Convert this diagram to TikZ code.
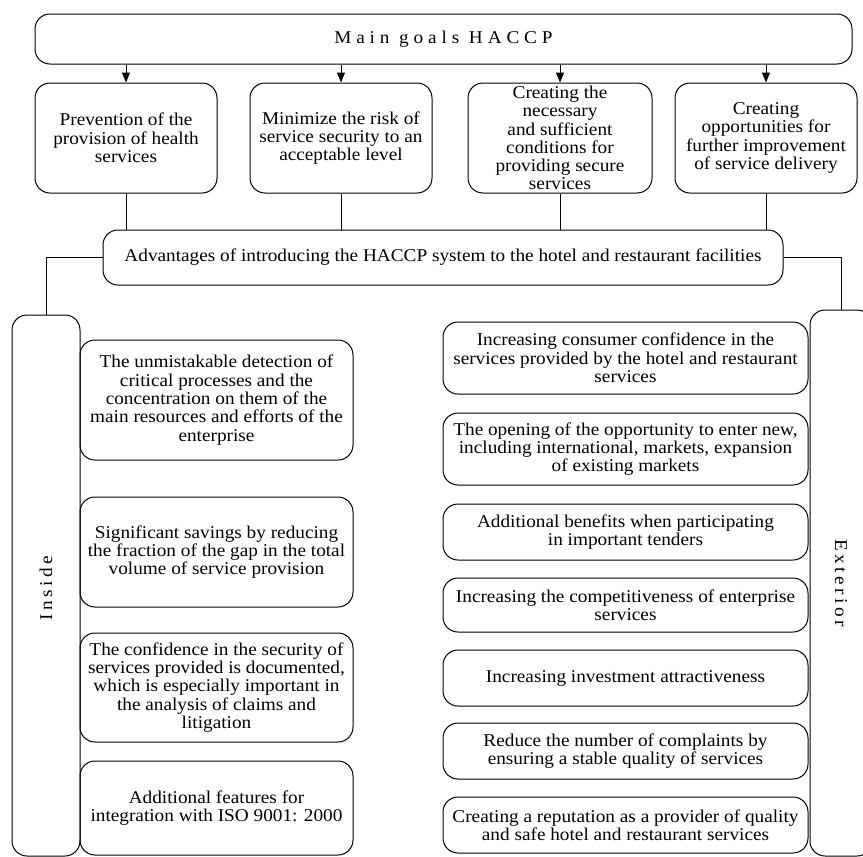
\documentclass[tikz,border=0pt]{standalone}
\usepackage{fontspec}
\setmainfont{Liberation Serif}[FakeStretch=1.07]
\usetikzlibrary{arrows.meta}

\begin{document}
\begin{tikzpicture}[
  x=1pt,
  y=-1pt,
  box/.style={draw=black, line width=1pt, rounded corners=15pt, align=center, inner sep=0pt,
    font=\fontsize{18}{18.3}\selectfont},
  link/.style={draw=black, line width=1pt},
  arrowlink/.style={link, -{Triangle[length=10pt, width=8pt]}},
  sidelabel/.style={font=\fontsize{18}{18}\selectfont\addfontfeatures{LetterSpace=19}}
]
  \clip (0,0) rectangle (863,857);

  % Main goals
  \node[box, minimum width=817pt, minimum height=50pt] (goals) at (443.5,39)
    {\addfontfeatures{LetterSpace=27}Main goals HACCP};

  \node[box, minimum width=182pt, minimum height=110pt] (goal1) at (126,138)
    {Prevention of the\\provision of health\\services};
  \node[box, minimum width=182pt, minimum height=110pt] (goal2) at (341,138)
    {Minimize the risk of\\service security to an\\acceptable level};
  \node[box, minimum width=184pt, minimum height=110pt] (goal3) at (560,138)
    {Creating the\\necessary\\and sufficient\\conditions for\\providing secure\\services};
  \node[box, minimum width=182pt, minimum height=110pt] (goal4) at (766,138)
    {Creating\\opportunities for\\further improvement\\of service delivery};

  % Advantages
  \node[box, minimum width=680pt, minimum height=55pt] (adv) at (443,257.5)
    {Advantages of introducing the HACCP system to the hotel and restaurant facilities};

  % Side frames
  \node[box, minimum width=68pt, minimum height=541pt] (inside) at (46,585.5) {};
  \node[box, minimum width=62pt, minimum height=546pt] (exterior) at (841,583) {};
  \node[sidelabel, rotate=90] (insidelabel) at (46,588) {Inside};
  \node[sidelabel, rotate=-90] (exteriorlabel) at (841,583) {Exterior};

  % Inside effects
  \node[box, minimum width=273pt, minimum height=120pt] (in1) at (216.5,400)
    {The unmistakable detection of\\critical processes and the\\concentration on them of the\\main resources and efforts of the\\enterprise};
  \node[box, minimum width=273pt, minimum height=110pt] (in2) at (216.5,552)
    {Significant savings by reducing\\the fraction of the gap in the total\\volume of service provision};
  \node[box, minimum width=273pt, minimum height=109pt] (in3) at (216.5,687.5)
    {The confidence in the security of\\services provided is documented,\\which is especially important in\\the analysis of claims and\\litigation};
  \node[box, minimum width=273pt, minimum height=94pt] (in4) at (216.5,808)
    {Additional features for\\integration with ISO 9001: 2000};

  % Exterior effects
  \node[box, minimum width=365pt, minimum height=72pt] (ex1) at (625.5,358)
    {Increasing consumer confidence in the\\services provided by the hotel and restaurant\\services};
  \node[box, minimum width=365pt, minimum height=72pt] (ex2) at (625.5,449)
    {The opening of the opportunity to enter new,\\including international, markets, expansion\\of existing markets};
  \node[box, minimum width=365pt, minimum height=56pt] (ex3) at (625.5,532)
    {Additional benefits when participating\\in important tenders};
  \node[box, minimum width=365pt, minimum height=54pt] (ex4) at (625.5,605)
    {Increasing the competitiveness of enterprise\\services};
  \node[box, minimum width=365pt, minimum height=56pt] (ex5) at (625.5,678)
    {Increasing investment attractiveness};
  \node[box, minimum width=365pt, minimum height=56pt] (ex6) at (625.5,751)
    {Reduce the number of complaints by\\ensuring a stable quality of services};
  \node[box, minimum width=365pt, minimum height=56pt] (ex7) at (625.5,825)
    {Creating a reputation as a provider of quality\\and safe hotel and restaurant services};

  % Connectors
  \draw[arrowlink] (goal1.north |- goals.south) -- (goal1.north);
  \draw[arrowlink] (goal2.north |- goals.south) -- (goal2.north);
  \draw[arrowlink] (goal3.north |- goals.south) -- (goal3.north);
  \draw[arrowlink] (goal4.north |- goals.south) -- (goal4.north);

  \draw[link] (goal1.south) -- (goal1.south |- adv.north);
  \draw[link] (goal2.south) -- (goal2.south |- adv.north);
  \draw[link] (goal3.south) -- (goal3.south |- adv.north);
  \draw[link] (goal4.south) -- (goal4.south |- adv.north);

  \draw[link] (adv.west) -| (inside.north);
  \draw[link] (adv.east) -| (exterior.north);

\end{tikzpicture}
\end{document}
